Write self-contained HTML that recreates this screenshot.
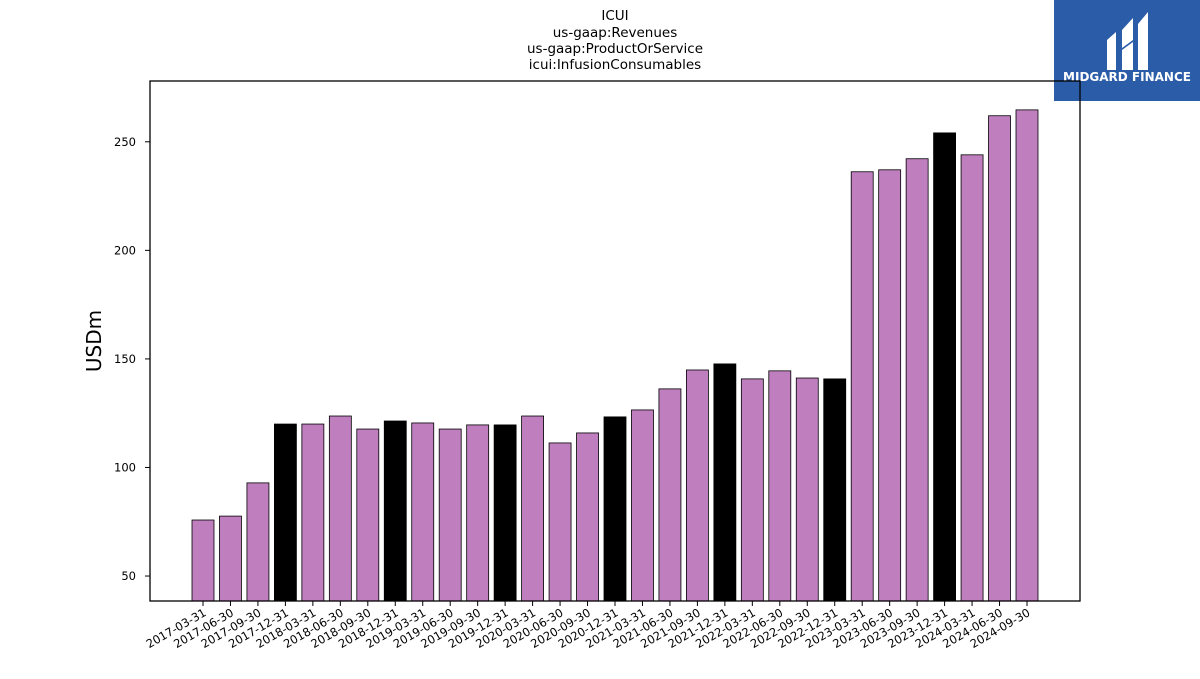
<!DOCTYPE html>
<html><head><meta charset="utf-8"><style>
body{margin:0;background:#fff;font-family:"DejaVu Sans","Liberation Sans",sans-serif}
</style></head><body>
<svg id="chart" width="1200" height="675" xmlns="http://www.w3.org/2000/svg">
<g font-size="13.5" text-anchor="middle" fill="#000">
<text x="615" y="20">ICUI</text><text x="615" y="37">us-gaap:Revenues</text>
<text x="615" y="53">us-gaap:ProductOrService</text><text x="615" y="69">icui:InfusionConsumables</text>
</g>
<g>
<rect x="1054" y="0" width="146" height="101" fill="#2b5ca8"/>
<path d="M1107 40 L1116 32 L1116 70 L1107 70 Z M1122 30 L1133 18 L1133 40 L1122 48 Z M1122 50 L1133 42 L1133 70 L1122 70 Z M1138 24 L1148 12 L1148 70 L1138 70 Z" fill="#fff"/>
<text x="1127" y="81" font-size="12" font-weight="bold" fill="#fff" text-anchor="middle">MIDGARD FINANCE</text>
</g>
<g id="bars"></g>
<g id="yaxis"></g><g id="xaxis"></g>
<rect x="150" y="81" width="930" height="520" fill="none" stroke="#000" stroke-width="1.3"/>
<text x="101" y="341" font-size="20" text-anchor="middle" transform="rotate(-90 101 341)">USDm</text>
</svg>
<script>
const categories=["2017-03-31","2017-06-30","2017-09-30","2017-12-31","2018-03-31","2018-06-30","2018-09-30","2018-12-31","2019-03-31","2019-06-30","2019-09-30","2019-12-31","2020-03-31","2020-06-30","2020-09-30","2020-12-31","2021-03-31","2021-06-30","2021-09-30","2021-12-31","2022-03-31","2022-06-30","2022-09-30","2022-12-31","2023-03-31","2023-06-30","2023-09-30","2023-12-31","2024-03-31","2024-06-30","2024-09-30"];
const values=[75.8,77.6,92.9,120,120,123.7,117.7,121.4,120.5,117.7,119.6,119.6,123.7,111.3,115.9,123.3,126.5,136.2,144.9,147.7,140.8,144.5,141.2,140.8,236.2,237.1,242.2,254.1,244,262,264.7];
const yTicks=[50,100,150,200,250];
const NS="http://www.w3.org/2000/svg";
const yMin=38.5,yMax=278,plotTop=81,plotBot=601;
const y=v=>plotBot-(v-yMin)/(yMax-yMin)*(plotBot-plotTop);
const x0=203,step=(1027-203)/30;
const x=i=>x0+i*step;
function mk(t,a,p){const e=document.createElementNS(NS,t);for(const k in a)e.setAttribute(k,a[k]);p.appendChild(e);return e;}
const bars=document.getElementById('bars'),ya=document.getElementById('yaxis'),xa=document.getElementById('xaxis');
values.forEach((v,i)=>{
 const r=mk('rect',{x:x(i)-11,y:y(v),width:22,height:plotBot-y(v),fill:categories[i].endsWith('12-31')?'#000':'#bf7fbf',stroke:'#000','stroke-width':0.8},bars);
 
 
 const t=mk('line',{x1:x(i),x2:x(i),y1:plotBot,y2:plotBot+5,stroke:'#000'},xa);
 
 
 const l=mk('text',{x:x(i)+4,y:plotBot+14,'font-size':11.5,'text-anchor':'end',transform:`rotate(-30 ${x(i)+4} ${plotBot+14})`},xa);
 l.textContent=categories[i];
 
 
});
yTicks.forEach(v=>{
 const t=mk('line',{x1:145,x2:150,y1:y(v),y2:y(v),stroke:'#000'},ya);
 
 
 const l=mk('text',{x:136,y:y(v)+4,'font-size':11.5,'text-anchor':'end'},ya);
 l.textContent=v;
 
 
});
</script>
</body></html>
